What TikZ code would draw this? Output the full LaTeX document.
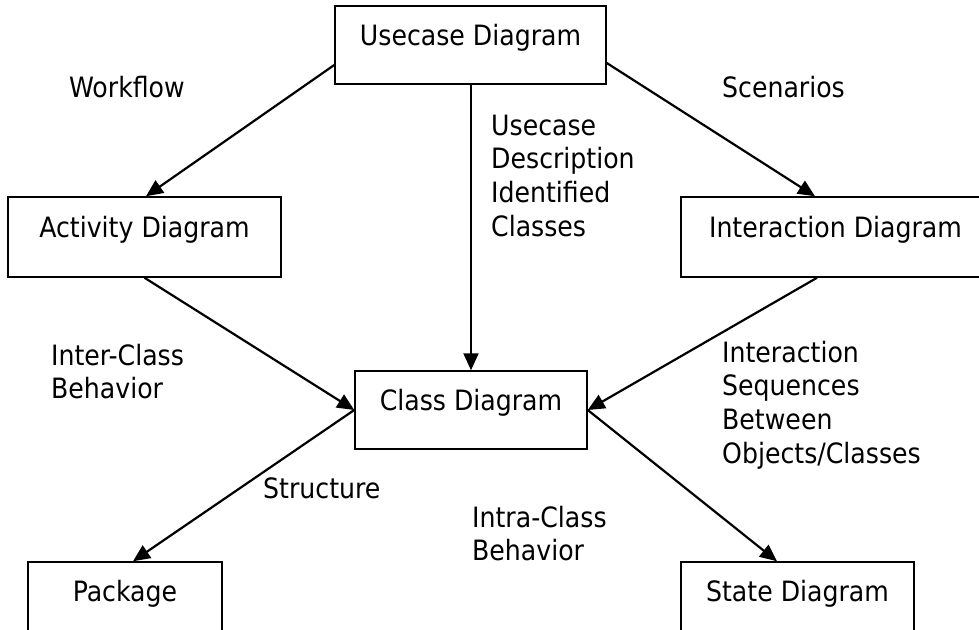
\documentclass[tikz,border=0pt]{standalone}
\usepackage{fontspec}
\setmainfont{DejaVu Sans Condensed}
\usetikzlibrary{arrows.meta}
\begin{document}
\begin{tikzpicture}[x=1pt,y=-1pt,
  box/.style={draw, line width=1.5pt, inner sep=0pt, text height=15pt, text depth=15pt,
    font=\fontsize{28}{34}\selectfont},
  conn/.style={line width=2.2pt, -{Triangle[length=17pt,width=15pt]}},
  lbl/.style={anchor=base west, inner sep=0pt, font=\fontsize{28}{33.8}\selectfont}]
\useasboundingbox (0,0) rectangle (979,629);
\clip (0,0) rectangle (979,629);
% boxes
\node[box, minimum width=271pt, minimum height=78pt] (use) at (470.5,45) {Usecase Diagram};
\node[box, minimum width=273pt, minimum height=80pt] (act) at (144.5,237) {Activity Diagram};
\node[box, minimum width=309pt, minimum height=80pt] (inter) at (835.5,237) {Interaction Diagram};
\node[box, minimum width=232pt, minimum height=78pt] (cls) at (471,410) {Class Diagram};
\node[box, minimum width=194pt, minimum height=78pt] (pkg) at (125,601) {Package};
\node[box, minimum width=233pt, minimum height=78pt] (st) at (797.5,601) {State Diagram};
% connectors
\draw[conn] ([yshift=-20pt]use.west) -- ([xshift=1.5pt]act.north);
\draw[conn] ([yshift=-18pt]use.east) -- ([xshift=-20.5pt]inter.north);
\draw[conn] (use.south -| cls.north) -- (cls.north);
\draw[conn] (act.south) -- (cls.west);
\draw[conn] ([xshift=-18.5pt]inter.south) -- (cls.east);
\draw[conn] (cls.west) -- ([xshift=8pt]pkg.north);
\draw[conn] (cls.east) -- ([xshift=-20.5pt]st.north);
% labels
\node[lbl] (wf) at (69,97) {Workflow};
\node[lbl] (sc) at (722,97) {Scenarios};
\node[lbl] (ud) at (491,135) {\begin{tabular}[t]{@{}l@{}}Usecase\\Description\\Identified\\Classes\end{tabular}};
\node[lbl] (ic) at (51,365) {\begin{tabular}[t]{@{}l@{}}Inter-Class\\Behavior\end{tabular}};
\node[lbl] (is) at (722,362) {\begin{tabular}[t]{@{}l@{}}Interaction\\Sequences\\Between\\Objects/Classes\end{tabular}};
\node[lbl] (str) at (263,498) {Structure};
\node[lbl] (intra) at (472,527) {\begin{tabular}[t]{@{}l@{}}Intra-Class\\Behavior\end{tabular}};
\end{tikzpicture}
\end{document}
